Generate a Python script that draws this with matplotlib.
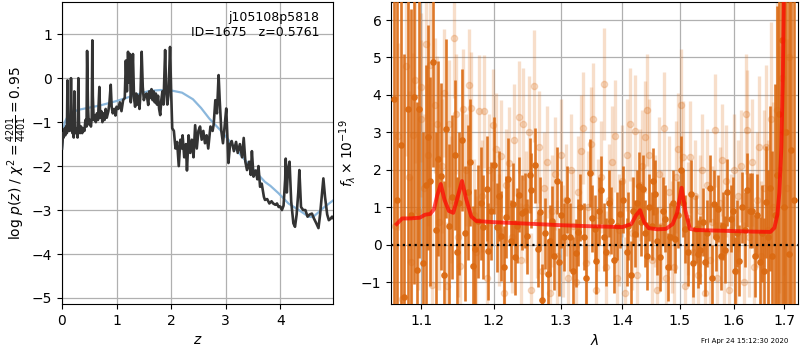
import numpy as np
import matplotlib
matplotlib.use('Agg')
import matplotlib.pyplot as plt
from matplotlib.ticker import FixedLocator, FixedFormatter, NullLocator

# ── p(z) panel ───────────────────────────────────────────────────────────────
z_pz = [0.00, 0.01, 0.02, 0.03, 0.045, 0.06, 0.075, 0.09, 0.10, 0.11, 0.125, 0.14,
        0.155, 0.165, 0.175, 0.19, 0.205, 0.215, 0.226, 0.235, 0.25, 0.27, 0.285,
        0.30, 0.31, 0.33, 0.35, 0.37, 0.39, 0.41, 0.43, 0.45, 0.46, 0.475, 0.49,
        0.51, 0.53, 0.545, 0.556, 0.565, 0.58, 0.60, 0.62, 0.64, 0.66, 0.685, 0.70,
        0.72, 0.74, 0.76, 0.78, 0.80, 0.82, 0.85, 0.87, 0.893, 0.91, 0.93, 0.96,
        0.98, 1.00, 1.03, 1.06, 1.09, 1.12, 1.15, 1.17, 1.19, 1.21, 1.23, 1.245,
        1.26, 1.28, 1.30, 1.32, 1.34, 1.36, 1.38, 1.40, 1.42, 1.44, 1.46, 1.48,
        1.50, 1.52, 1.55, 1.58, 1.60, 1.62, 1.64, 1.66, 1.68, 1.70, 1.72, 1.74,
        1.76, 1.78, 1.80, 1.82, 1.84, 1.86, 1.89, 1.91, 1.93, 1.95, 1.98, 2.00,
        2.02, 2.05, 2.08, 2.11, 2.14, 2.17, 2.20, 2.21, 2.24, 2.27, 2.29, 2.32,
        2.35, 2.38, 2.41, 2.44, 2.47, 2.50, 2.53, 2.56, 2.59, 2.62, 2.65, 2.68,
        2.72, 2.76, 2.78, 2.81, 2.84, 2.87, 2.89, 2.92, 2.95, 2.98, 3.01, 3.05,
        3.08, 3.11, 3.15, 3.19, 3.22, 3.26, 3.30, 3.33, 3.36, 3.39, 3.43, 3.46,
        3.48, 3.51, 3.55, 3.58, 3.60, 3.63, 3.66, 3.70, 3.72, 3.76, 3.80, 3.84,
        3.87, 3.91, 3.94, 3.97, 4.00, 4.03, 4.06, 4.09, 4.10, 4.12, 4.14, 4.17,
        4.20, 4.24, 4.27, 4.30, 4.33, 4.35, 4.38, 4.42, 4.46, 4.50, 4.54, 4.58,
        4.62, 4.66, 4.70, 4.73, 4.76, 4.79, 4.82, 4.86, 4.89, 4.92, 4.95, 4.98]
logp = [-1.60, -1.45, -1.25, -1.35, -1.15, -1.30, -1.10, -1.25, -0.05, -1.20, -1.05,
        -1.20, -0.90, 0.00, -1.00, -1.25, -1.10, -1.35, -0.30, -1.10, -1.25, -1.15,
        -1.35, 0.00, -1.00, -1.25, -1.10, -1.25, -1.15, -1.20, -0.95, -1.10, 0.62,
        -0.60, -1.05, -0.95, -1.10, -0.90, 0.86, -0.40, -0.95, -0.85, -1.00, -0.80,
        -0.95, -0.20, -0.90, -0.75, -1.00, -0.80, -0.95, -0.70, -0.90, -0.75, -0.55,
        -0.15, -0.65, -0.80, -0.70, -0.85, -0.65, -0.70, -0.55, -0.75, -0.50, -0.45,
        0.40, -0.30, 0.60, -0.10, 0.55, -0.55, -0.20, 0.55, -0.45, -0.65, -0.35,
        -0.60, -0.40, -0.70, -0.30, 0.60, -0.20, -0.50, -0.40, -0.35, -0.61, -0.30,
        -0.45, -0.25, -0.50, -0.30, -0.55, -0.35, -0.60, -0.40, -0.70, -0.84, -0.50,
        -0.30, -0.60, 0.64, -0.30, -0.60, -0.40, 0.71, -0.30, -1.14, -1.20, -1.60,
        -1.45, -2.00, -1.40, -1.60, -1.30, -1.80, -1.50, -2.10, -1.30, -1.70, -1.40,
        -1.80, -1.07, -1.60, -1.20, -1.10, -1.40, -1.20, -1.48, -1.30, -1.60, -1.10,
        -1.20, -1.05, -0.50, -0.80, 0.07, -0.50, -1.20, -1.48, -1.10, -0.69, -1.93,
        -1.50, -1.43, -1.66, -1.45, -1.70, -1.50, -1.80, -1.36, -1.90, -2.09, -1.90,
        -2.20, -1.66, -2.24, -2.10, -2.30, -2.00, -2.47, -2.40, -2.70, -2.77, -2.75,
        -2.85, -2.80, -2.85, -2.88, -2.85, -2.93, -2.92, -3.00, -2.90, -2.30, -1.83,
        -2.60, -2.10, -1.90, -2.80, -3.30, -3.38, -3.10, -2.60, -2.09, -2.93, -3.00,
        -3.00, -3.15, -3.10, -3.08, -3.20, -3.30, -3.41, -3.10, -2.70, -2.28, -2.70,
        -3.10, -3.23, -3.20, -3.15, -3.20]

z_prior = [0.00, 0.02, 0.05, 0.10, 0.20, 0.30, 0.50, 0.70, 1.00, 1.30, 1.60, 1.80,
           2.00, 2.20, 2.40, 2.55, 2.70, 2.90, 3.05, 3.20, 3.45, 3.72, 3.82, 3.97,
           4.15, 4.34, 4.52, 4.60, 4.80, 4.97]
logp_prior = [-1.62, -1.25, -1.00, -0.88, -0.77, -0.72, -0.67, -0.62, -0.52, -0.40,
              -0.29, -0.27, -0.28, -0.33, -0.48, -0.68, -0.92, -1.18, -1.40, -1.64,
              -2.00, -2.36, -2.45, -2.62, -2.85, -3.00, -3.15, -3.16, -2.94, -2.78]

# ── spectrum panel ───────────────────────────────────────────────────────────
lam_a = [1.064, 1.069, 1.073, 1.078, 1.083, 1.087, 1.091, 1.094, 1.097, 1.102,
         1.106, 1.109, 1.112, 1.115, 1.119, 1.122, 1.126, 1.130, 1.133, 1.137,
         1.141, 1.145, 1.148, 1.151, 1.155, 1.159, 1.163, 1.1665, 1.170, 1.173,
         1.177, 1.181, 1.185, 1.190, 1.192, 1.196, 1.200, 1.204, 1.208, 1.211,
         1.215, 1.218, 1.221, 1.225, 1.228, 1.231, 1.234, 1.237, 1.241, 1.246,
         1.249, 1.253, 1.255, 1.260, 1.265, 1.269, 1.272, 1.276, 1.280, 1.284,
         1.287, 1.290, 1.294, 1.297, 1.301, 1.306, 1.310, 1.315, 1.319, 1.324,
         1.327, 1.331, 1.337, 1.341, 1.346, 1.350, 1.354, 1.357, 1.361, 1.365,
         1.369, 1.373, 1.377, 1.381, 1.386, 1.391, 1.396, 1.401, 1.407, 1.410,
         1.414, 1.418, 1.421, 1.425, 1.429, 1.432, 1.435, 1.439, 1.442, 1.446,
         1.450, 1.453, 1.456, 1.460, 1.465, 1.469, 1.474, 1.478, 1.482, 1.487,
         1.492, 1.497, 1.502, 1.505, 1.509, 1.514, 1.520, 1.524, 1.530, 1.533,
         1.537, 1.542, 1.546, 1.550, 1.555, 1.558, 1.562, 1.566, 1.571, 1.575,
         1.579, 1.583, 1.588, 1.594, 1.599, 1.603, 1.606, 1.610, 1.616, 1.621,
         1.626, 1.631, 1.636, 1.641, 1.646, 1.651, 1.656, 1.659, 1.663, 1.668,
         1.672, 1.676, 1.681, 1.685, 1.690, 1.695, 1.700, 1.704, 1.709, 1.714, 1.719]
flux_a = [3.90, 1.20, 2.65, -1.40, 3.62, 0.80, 3.95, -0.68, 3.63, -0.50,
          1.60, 2.87, 1.69, 4.88, 0.40, 2.30, 1.83, -0.80, 3.10, 0.50,
          1.27, 2.40, -0.20, 1.10, 2.80, 0.30, 1.40, 2.20, -0.58, -0.12,
          0.62, 1.10, 0.47, 1.49, -0.18, 0.90, 2.12, 0.46, 1.30, 0.24,
          -0.60, 0.73, 1.76, 0.10, 1.09, -0.34, 0.50, 1.33, 0.85, 0.91,
          0.22, 1.85, 1.45, 2.12, -0.12, 0.87, -1.48, 0.30, -0.79, 0.10,
          0.62, -0.30, 1.71, -0.46, 0.80, 0.20, 1.20, 0.20, -0.70, -0.22,
          0.33, 1.00, 0.21, -0.90, 1.91, 0.70, 0.42, -0.43, 0.90, 1.46,
          0.20, -0.20, 1.10, 0.64, -0.40, 0.50, 0.82, 1.20, -0.20, 0.50,
          -0.80, 0.90, 0.29, 1.10, 1.58, 0.60, 1.49, 0.30, -0.30, 1.00,
          0.50, 1.69, 1.36, 0.10, -0.34, 0.90, 0.69, -0.60, 0.21, 1.10,
          0.15, 0.80, 2.00, 1.10, 0.42, -0.20, 1.36, -0.50, 0.42, -0.25,
          -0.14, 0.60, -0.47, 0.30, 1.50, -0.90, 1.09, 0.20, 0.96, -0.30,
          0.50, -0.13, 1.40, 0.69, 0.91, -0.70, 0.30, -0.43, 1.00, 0.40,
          1.46, 0.91, 0.91, -0.30, 0.78, -0.47, 0.30, -0.70, 1.13, 0.20,
          1.50, -0.30, 0.80, 1.87, 3.50, 5.48, 1.00, 3.00, -0.25, 2.52, 1.20]
err_a = [9.0, 8.0, 7.0, 6.5, 6.0, 5.5, 5.0, 4.5, 4.0, 3.5,
         3.2, 3.0, 2.8, 2.8, 2.6, 2.6, 2.5, 2.5, 2.4, 2.2,
         2.2, 2.0, 2.0, 1.9, 1.9, 1.8, 1.8, 1.7, 1.6, 1.6,
         1.5, 1.5, 1.4, 1.4, 1.3, 1.3, 1.3, 1.2, 1.2, 1.2,
         1.1, 1.1, 1.1, 1.1, 1.1, 1.0, 1.0, 1.0, 1.0, 1.0,
         1.0, 1.0, 1.0, 1.0, 1.0, 0.95, 0.95, 0.95, 0.95, 0.95,
         0.95, 0.9, 0.9, 0.9, 0.9, 0.9, 0.9, 0.9, 0.9, 0.9,
         0.9, 0.9, 0.9, 0.9, 0.9, 0.9, 0.9, 0.9, 0.9, 0.9,
         0.9, 0.9, 0.9, 0.9, 0.9, 0.9, 0.9, 0.9, 0.9, 0.9,
         0.9, 0.9, 0.9, 0.9, 0.9, 0.9, 0.9, 0.9, 0.9, 0.9,
         0.9, 0.9, 0.9, 0.9, 0.9, 0.9, 0.9, 0.9, 0.9, 0.9,
         0.9, 0.9, 0.9, 0.9, 0.9, 0.9, 0.9, 0.9, 0.9, 0.9,
         0.9, 0.9, 0.9, 0.9, 0.9, 0.9, 0.9, 0.9, 0.9, 0.9,
         0.9, 0.9, 0.9, 0.9, 0.9, 0.9, 0.9, 0.95, 0.95, 1.0,
         1.0, 1.0, 1.0, 1.1, 1.1, 1.2, 1.3, 1.4, 1.5, 1.8,
         2.2, 2.8, 3.5, 4.5, 6.0, 8.0, 9.0, 9.0, 9.0, 9.0, 10.0]

lam_b = [1.066, 1.070, 1.075, 1.080, 1.084, 1.086, 1.089, 1.092, 1.096, 1.099,
         1.100, 1.103, 1.106, 1.109, 1.1115, 1.114, 1.118, 1.121, 1.124, 1.127,
         1.130, 1.134, 1.137, 1.140, 1.144, 1.147, 1.150, 1.152, 1.157, 1.161,
         1.165, 1.168, 1.172, 1.175, 1.179, 1.183, 1.186, 1.190, 1.193, 1.199,
         1.203, 1.207, 1.210, 1.214, 1.218, 1.222, 1.226, 1.230, 1.236, 1.240,
         1.243, 1.247, 1.251, 1.255, 1.259, 1.263, 1.267, 1.271, 1.275, 1.279,
         1.283, 1.287, 1.291, 1.295, 1.300, 1.304, 1.308, 1.312, 1.316, 1.320,
         1.324, 1.328, 1.332, 1.336, 1.340, 1.344, 1.349, 1.352, 1.356, 1.360,
         1.364, 1.369, 1.373, 1.377, 1.382, 1.387, 1.391, 1.395, 1.400, 1.404,
         1.408, 1.413, 1.417, 1.421, 1.425, 1.430, 1.434, 1.438, 1.442, 1.446,
         1.450, 1.455, 1.459, 1.463, 1.467, 1.471, 1.476, 1.480, 1.485, 1.489,
         1.493, 1.497, 1.502, 1.506, 1.510, 1.514, 1.519, 1.523, 1.528, 1.532,
         1.537, 1.541, 1.546, 1.550, 1.555, 1.559, 1.564, 1.568, 1.573, 1.577,
         1.582, 1.586, 1.591, 1.595, 1.600, 1.605, 1.609, 1.614, 1.619, 1.624,
         1.626, 1.630, 1.635, 1.640, 1.645, 1.650, 1.654, 1.659, 1.663, 1.668,
         1.673, 1.678, 1.685, 1.690, 1.695, 1.700, 1.705, 1.710]
flux_b = [0.50, 2.90, -1.46, 4.78, 1.80, -0.46, 2.92, 4.39, 0.90, 3.37,
          4.20, 1.50, 5.35, 2.40, 4.79, -1.07, 3.72, 3.23, 0.60, 2.10,
          4.05, -1.10, 3.23, 1.20, 5.51, 3.50, 0.20, -0.56, 3.63, 2.00,
          4.26, 3.66, 0.80, -0.20, 3.56, 1.30, 3.56, -0.90, 2.00, 3.19,
          2.55, 0.40, 2.37, -1.30, 1.60, 2.17, 0.20, 2.80, 3.41, -0.40,
          3.23, 1.00, 3.00, -1.20, 4.24, 0.60, 2.60, -0.70, 1.50, 2.20,
          -1.30, 0.90, 1.90, -0.30, 2.40, 0.10, 1.20, -0.90, 2.00, 0.50,
          -1.00, 1.40, 2.50, 3.12, -0.50, 1.00, 2.70, 3.35, -1.20, 0.80,
          1.80, 4.30, -0.60, 1.20, 2.20, 2.90, -0.90, 0.40, 1.70, -1.30,
          2.40, 3.21, 0.30, 3.03, -0.80, 1.60, 2.10, 2.88, 3.59, 2.40,
          -0.40, 0.90, -1.20, 1.90, 0.50, 3.12, -0.90, 1.40, 0.20, -0.60,
          1.80, 2.55, 3.72, 2.35, -1.10, 0.70, 2.35, -0.20, 1.30, -0.80,
          0.90, 2.00, -1.30, 1.60, -0.40, 0.60, 3.05, -0.90, 1.10, 2.27,
          -0.20, 1.70, -1.20, 0.40, 2.00, -0.70, 1.30, 2.10, -1.00, 3.50,
          3.07, 0.20, 2.20, -0.60, 1.20, 2.60, -0.30, 1.50, 2.60, 0.40,
          3.36, 1.00, 3.59, 2.00, 4.44, 3.00, 1.50, 5.00]
err_b = [2.5, 2.5, 2.4, 2.4, 2.3, 2.3, 2.2, 2.2, 2.1, 2.1,
         2.0, 2.0, 2.0, 1.9, 1.9, 1.9, 1.8, 1.8, 1.8, 1.8,
         1.7, 1.7, 1.7, 1.7, 1.6, 1.6, 1.6, 1.6, 1.6, 1.5,
         1.5, 1.5, 1.5, 1.5, 1.5, 1.5, 1.5, 1.5, 1.5, 1.5,
         1.5, 1.5, 1.5, 1.5, 1.5, 1.5, 1.5, 1.5, 1.5, 1.5,
         1.5, 1.5, 1.5, 1.5, 1.5, 1.5, 1.5, 1.5, 1.5, 1.5,
         1.5, 1.5, 1.5, 1.5, 1.5, 1.5, 1.5, 1.5, 1.5, 1.5,
         1.5, 1.5, 1.5, 1.5, 1.5, 1.5, 1.5, 1.5, 1.5, 1.5,
         1.5, 1.5, 1.5, 1.5, 1.5, 1.5, 1.5, 1.5, 1.5, 1.5,
         1.5, 1.5, 1.5, 1.5, 1.5, 1.5, 1.5, 1.5, 1.5, 1.5,
         1.5, 1.5, 1.5, 1.5, 1.5, 1.5, 1.5, 1.5, 1.5, 1.5,
         1.5, 1.5, 1.5, 1.5, 1.5, 1.5, 1.5, 1.5, 1.5, 1.5,
         1.5, 1.5, 1.5, 1.5, 1.5, 1.5, 1.5, 1.5, 1.5, 1.5,
         1.5, 1.5, 1.5, 1.5, 1.5, 1.5, 1.5, 1.5, 1.6, 1.6,
         1.6, 1.6, 1.7, 1.7, 1.8, 1.9, 2.0, 2.1, 2.2, 2.4,
         2.6, 2.8, 3.0, 3.3, 3.5, 3.8, 4.0, 4.0]

# best-fit model (continuum + lines)
lam_model = [1.068, 1.075, 1.085, 1.098, 1.105, 1.112, 1.117, 1.121, 1.126, 1.131,
             1.137, 1.143, 1.148, 1.155, 1.161, 1.168, 1.175, 1.20, 1.25, 1.30,
             1.35, 1.40, 1.415, 1.423, 1.430, 1.437, 1.445, 1.46, 1.475, 1.487,
             1.495, 1.503, 1.510, 1.518, 1.53, 1.58, 1.63, 1.672, 1.680, 1.686,
             1.690, 1.694, 1.697, 1.700, 1.702]
f_model = [0.55, 0.70, 0.70, 0.72, 0.80, 0.82, 0.95, 1.30, 1.62, 1.20,
           0.90, 0.85, 1.20, 1.70, 1.20, 0.75, 0.63, 0.60, 0.56, 0.52,
           0.49, 0.47, 0.55, 0.78, 0.92, 0.60, 0.44, 0.41, 0.42, 0.55,
           0.85, 1.52, 0.90, 0.42, 0.39, 0.37, 0.35, 0.34, 0.45, 0.80,
           1.40, 2.60, 4.50, 7.50, 10.0]

orange = '#db6a12'

fig = plt.figure(figsize=(8, 3.5), dpi=100)

# --- left: log p(z) ---
ax1 = fig.add_axes([0.0775, 0.131, 0.339, 0.863])
ax1.plot(z_prior, logp_prior, color='#7fb0d9', linewidth=1.6, alpha=0.9, zorder=2)
ax1.plot(z_pz, logp, color='#333333', linewidth=1.9, zorder=3)
ax1.set_xlim(0, 4.97)
ax1.set_ylim(-5.14, 1.73)
ax1.set_xticks([0, 1, 2, 3, 4])
ax1.set_yticks([-5, -4, -3, -2, -1, 0, 1])
ax1.grid(True, color='#b0b0b0', linewidth=0.9)
ax1.set_axisbelow(True)
ax1.set_xlabel('$z$')
ax1.set_ylabel(r'log $p(z)$ / $\chi^2=\frac{4201}{4401}=0.95$', labelpad=2)
ax1.text(0.95, 0.97, 'j105108p5818\nID=1675   z=0.5761', transform=ax1.transAxes,
         ha='right', va='top', fontsize=9, linespacing=1.2)

# --- right: spectrum ---
ax2 = fig.add_axes([0.489, 0.131, 0.509, 0.863])
ax2.errorbar(lam_b, flux_b, yerr=err_b, marker='o', markersize=4.5, linestyle='none',
             color=orange, alpha=0.22, elinewidth=2.4, capsize=0, zorder=2)
ax2.errorbar(lam_a, flux_a, yerr=err_a, marker='o', markersize=3.8, linestyle='none',
             color=orange, alpha=0.9, elinewidth=1.9, capsize=0, zorder=3)
ax2.plot(lam_model, f_model, color='red', linewidth=2.8, alpha=0.7, zorder=4)
ax2.axhline(0, color='black', linestyle=':', linewidth=1.6, zorder=5)

ax2.set_xscale('log')
ax2.set_xlim(1.061, 1.729)
ax2.set_ylim(-1.59, 6.48)
xt = [1.1, 1.2, 1.3, 1.4, 1.5, 1.6, 1.7]
ax2.xaxis.set_major_locator(FixedLocator(xt))
ax2.xaxis.set_major_formatter(FixedFormatter([f'{v:.1f}' for v in xt]))
ax2.xaxis.set_minor_locator(NullLocator())
ax2.set_yticks([-1, 0, 1, 2, 3, 4, 5, 6])
ax2.grid(True, color='#b0b0b0', linewidth=0.9)
ax2.set_axisbelow(True)
ax2.set_xlabel(r'$\lambda$')
ax2.set_ylabel(r'$f_\lambda\times 10^{-19}$', labelpad=2)

fig.text(0.985, 0.026, 'Fri Apr 24 15:12:30 2020', ha='right', va='center', fontsize=5)

fig.savefig('out.png', dpi=100)
